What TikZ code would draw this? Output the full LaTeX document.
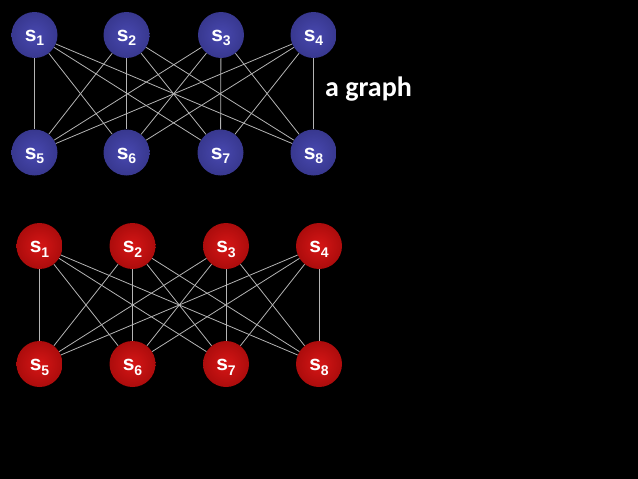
\documentclass[tikz,border=0pt]{standalone}
\usepackage{fontspec}
\setmainfont{Liberation Sans}
\newfontfamily\carl{Carlito}
\definecolor{bluein}{HTML}{4848B0}
\definecolor{blueout}{HTML}{38388F}
\definecolor{redin}{HTML}{D61616}
\definecolor{redout}{HTML}{AC0C0C}
\definecolor{edgegray}{HTML}{B4B4B4}
\newcommand{\slab}[1]{s\raisebox{-4.5pt}{\fontsize{14}{14}\selectfont #1}}
\begin{document}
\begin{tikzpicture}[x=1pt,y=-1pt,
  vtx/.style={circle, minimum size=46pt, inner sep=0pt, text=white,
    text height=13pt, text depth=0pt,
    font=\bfseries\fontsize{21}{21}\selectfont},
  bluev/.style={vtx, shading=radial, inner color=bluein, outer color=blueout},
  redv/.style={vtx, shading=radial, inner color=redin, outer color=redout},
  edge/.style={draw=edgegray, line width=0.8pt}]
\useasboundingbox[fill=black] (0,0) rectangle (638,479);
% blue graph
\foreach \i/\x in {1/34.5,2/126.5,3/221,4/313.5}
  \node[bluev] (a\i) at (\x,35) {\slab{\i}};
\foreach \i/\x in {5/34.5,6/126.5,7/220.5,8/313.5}
  \node[bluev] (a\i) at (\x,152.5) {\slab{\i}};
\foreach \u in {1,2,3,4}
  \foreach \v in {5,6,7,8}
    \draw[edge] (a\u) -- (a\v);
\node[anchor=base west, text=white, font=\carl\bfseries\fontsize{28}{28}\selectfont, inner sep=0pt] (lbl) at (325,96) {a graph};
% red graph
\foreach \i/\x in {1/39.5,2/132.5,3/226,4/319}
  \node[redv] (b\i) at (\x,246) {\slab{\i}};
\foreach \i/\x in {5/39.5,6/132.5,7/226,8/319}
  \node[redv] (b\i) at (\x,364) {\slab{\i}};
\foreach \u in {1,2,3,4}
  \foreach \v in {5,6,7,8}
    \draw[edge] (b\u) -- (b\v);
\end{tikzpicture}
\end{document}
